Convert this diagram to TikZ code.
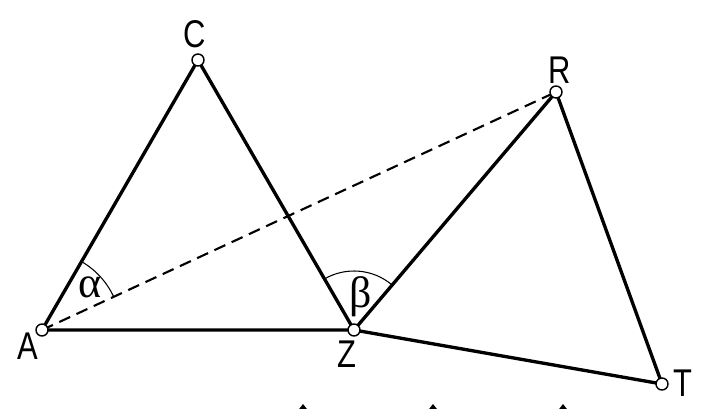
\documentclass[tikz,border=0pt]{standalone}
\usepackage{fontspec}
\setmainfont{Liberation Sans}
\newfontfamily\grkfont{Liberation Serif}
\usetikzlibrary{angles, calc}

\tikzset{
    side/.style={line width=1.9pt},
    hidden/.style={line width=1.2pt, dash pattern=on 0.24cm off 0.14cm},
    pt/.style={circle, draw, line width=0.8pt, fill=white, inner sep=0pt, minimum size=0.24cm},
    lbl/.style={font=\fontsize{22}{22}\selectfont, xscale=0.8, transform shape, inner sep=0pt},
    greek/.style={font=\grkfont\fontsize{25}{25}\selectfont, inner sep=0pt},
    tick/.style={fill=black}
}

\begin{document}
\begin{tikzpicture}
        \useasboundingbox (0,0) rectangle (14.18,-8.18);
        \clip (0,0) rectangle (14.18,-8.18);

        % Points
        \coordinate (A) at (0.84,-6.60);
        \coordinate (C) at (3.96,-1.20);
        \coordinate (R) at (11.12,-1.84);
        \coordinate (Z) at (7.08,-6.60);
        \coordinate (T) at (13.24,-7.68);

        % Angle marks
        \pic[draw, line width=0.6pt, angle radius=1.58cm] {angle = R--A--C};
        \pic[draw, line width=0.6pt, angle radius=1.18cm] {angle = R--Z--C};
        \node[greek] (alpha) at (1.80,-5.74) {α};
        \node[greek] (beta) at (7.22,-5.94) {β};

        % Sides
        \draw[side] (A) -- (C) -- (Z) -- cycle;
        \draw[side] (Z) -- (R) -- (T) -- cycle;
        \draw[hidden] (A) -- (R);

        % Vertices and their names
        \foreach \p/\x/\y in {A/0.56/-6.92, C/3.90/-0.68, R/11.20/-1.40, Z/6.94/-7.08, T/13.66/-7.66} {
            \node[pt] (pt\p) at (\p) {};
            \node[lbl] (lbl\p) at (\x,\y) {\p};
        }

        % Marks cut by the lower edge
        \foreach \x in {6.06, 8.66, 11.26} {
            \fill[tick] (\x-0.14,-8.26) -- (\x,-8.08) -- (\x+0.14,-8.26) -- cycle;
        }
\end{tikzpicture}
\end{document}
